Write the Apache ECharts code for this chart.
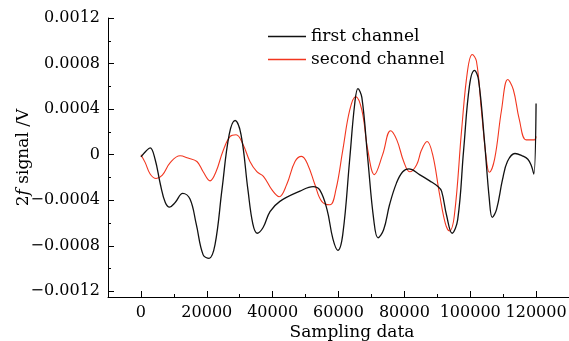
<!DOCTYPE html>
<html>
<head>
<meta charset="utf-8">
<script src="https://cdn.jsdelivr.net/npm/echarts@6/dist/echarts.min.js"></script>
<style>
  html, body { margin: 0; padding: 0; background: #fff; }
  #chart { width: 569px; height: 341px; }
</style>
</head>
<body>
<div id="chart"></div>
<script>
// first channel (black)
var firstX = [0, 1500, 2800, 4300, 5900, 7400, 8700, 10400, 12700, 14900, 16800, 18900, 20700, 22500, 24600, 26800, 28600, 30400, 32500, 34000, 35300, 37100, 39200, 42200, 48300, 52300, 54300, 56500, 58300, 59800, 61300, 63400, 64900, 65900, 67100, 68900, 70700, 72000, 73700, 75500, 77600, 79500, 81400, 84600, 87700, 90200, 91300, 92800, 94500, 96200, 98000, 99800, 101300, 102500, 104300, 105800, 106700, 108000, 109800, 111300, 113600, 115800, 117500, 118600, 119300, 120000];
var firstY = [-0.00002, 0.00003, 0.00006, -0.00004, -0.00026, -0.00042, -0.00046, -0.00042, -0.00034, -0.00039, -0.00061, -0.00088, -0.00091, -0.00079, -0.00031, 0.000175, 0.0003, 0.000175, -0.00031, -0.00061, -0.00069, -0.00064, -0.0005, -0.00041, -0.00032, -0.00028, -0.00031, -0.00048, -0.00074, -0.00084, -0.0007, -0.00004, 0.00044, 0.00058, 0.0005, -0.00004, -0.00057, -0.00073, -0.00066, -0.00044, -0.00025, -0.00015, -0.000125, -0.000175, -0.00023, -0.00028, -0.00032, -0.00053, -0.00069, -0.00057, 0.00004, 0.00061, 0.00074, 0.00066, 0.00013, -0.00039, -0.00055, -0.00048, -0.00022, -0.00006, 0.00001, -0.00001, -0.00004, -0.0001, -0.00017, 0.00045];

// second channel (red)
var secondX = [0, 1300, 2800, 4600, 6500, 8900, 11900, 14300, 17000, 18900, 21000, 22800, 24900, 27100, 28900, 31000, 33100, 35200, 37200, 39800, 42000, 44300, 46800, 48800, 50700, 52800, 54900, 57400, 59200, 61300, 63400, 65200, 67100, 68900, 70900, 73400, 75800, 77700, 79800, 81600, 83700, 85200, 86900, 88600, 90700, 92500, 93700, 95200, 97400, 99200, 100600, 101900, 103400, 104900, 105800, 107400, 109500, 111400, 113100, 114900, 117000, 119500, 120000];
var secondY = [0, -0.00007, -0.00017, -0.00021, -0.00018, -0.00007, -0.00001, -0.00003, -0.00006, -0.00015, -0.00023, -0.00015, 0.00003, 0.00016, 0.000175, 0.00009, -0.00006, -0.00015, -0.00019, -0.00031, -0.00037, -0.00026, -0.00006, -0.000015, -0.00009, -0.00026, -0.00041, -0.00044, -0.00031, 0.00004, 0.00039, 0.00051, 0.00039, 0.00004, -0.000175, 0, 0.00021, 0.00013, -0.00006, -0.00015, -0.00009, 0.00004, 0.000115, 0, -0.00035, -0.00061, -0.00067, -0.00053, 0.00022, 0.00074, 0.00088, 0.00082, 0.00039, -0.00004, -0.000155, -0.00004, 0.00039, 0.00066, 0.00057, 0.00031, 0.00013, 0.00013, 0.00016];

var xMajorTicks = [0, 20000, 40000, 60000, 80000, 100000, 120000];
var xMinorTicks = [-10000, 10000, 30000, 50000, 70000, 90000, 110000, 130000];
var yMajorTicks = [-0.0012, -0.0008, -0.0004, 0, 0.0004, 0.0008, 0.0012];
var yMinorTicks = [-0.001, -0.0006, -0.0002, 0.0002, 0.0006, 0.001];

function zip(xs, ys) {
  return xs.map(function (x, i) { return [x, ys[i]]; });
}

var font = 'DejaVu Serif';
var axisColor = '#000';

function xFmt(v) { return String(Math.round(v)); }
function yFmt(v) {
  if (Math.abs(v) < 1e-12) return '0';
  return (v < 0 ? '\u2212' : '') + Math.abs(v).toFixed(4);
}

var chart = echarts.init(document.getElementById('chart'));
chart.setOption({
  animation: false,
  backgroundColor: '#fff',
  grid: { left: 108, right: 0, top: 18, bottom: 44, outerBoundsMode: 'none' },
  legend: {
    orient: 'vertical',
    left: 263,
    top: 23,
    icon: 'rect',
    itemWidth: 38,
    itemHeight: 1.3,
    itemGap: 6,
    data: ['first channel', 'second channel'],
    textStyle: { fontFamily: font, fontSize: 17, color: '#000', lineHeight: 16 }
  },
  xAxis: [{
    type: 'value',
    min: -10000,
    max: 130000,
    name: 'Sampling data',
    nameLocation: 'middle',
    nameGap: 27,
    nameMoveOverlap: false,
    nameTextStyle: { fontFamily: font, fontSize: 17, color: '#000', padding: [0, 0, 0, 27] },
    axisLine: { show: true, onZero: false, lineStyle: { color: axisColor, width: 1 } },
    axisTick: { show: true, inside: true, length: 6, customValues: xMajorTicks, lineStyle: { color: axisColor } },
    axisLabel: { customValues: xMajorTicks, margin: 8, fontFamily: font, fontSize: 16, color: '#000', formatter: xFmt, hideOverlap: false },
    splitLine: { show: false }
  }, {
    type: 'value',
    position: 'bottom',
    min: -10000,
    max: 130000,
    axisLine: { show: false, onZero: false },
    axisTick: { show: true, inside: true, length: 3, customValues: xMinorTicks, lineStyle: { color: axisColor } },
    axisLabel: { show: false },
    splitLine: { show: false }
  }],
  yAxis: [{
    type: 'value',
    min: -0.00125,
    max: 0.0012,
    name: '2{i|f} signal /V',
    nameLocation: 'middle',
    nameGap: 76,
    nameMoveOverlap: false,
    nameTextStyle: {
      fontFamily: font, fontSize: 17, color: '#000',
      rich: { i: { fontFamily: font, fontSize: 17, fontStyle: 'italic', color: '#000' } }
    },
    axisLine: { show: true, onZero: false, lineStyle: { color: axisColor, width: 1 } },
    axisTick: { show: true, inside: true, length: 6, customValues: yMajorTicks, lineStyle: { color: axisColor } },
    axisLabel: { customValues: yMajorTicks, margin: 8, fontFamily: font, fontSize: 16, color: '#000', formatter: yFmt },
    splitLine: { show: false }
  }, {
    type: 'value',
    position: 'left',
    min: -0.00125,
    max: 0.0012,
    axisLine: { show: false, onZero: false },
    axisTick: { show: true, inside: true, length: 3, customValues: yMinorTicks, lineStyle: { color: axisColor } },
    axisLabel: { show: false },
    splitLine: { show: false }
  }],
  series: [{
    name: 'second channel',
    type: 'line',
    data: zip(secondX, secondY),
    smooth: 0.4,
    symbol: 'none',
    lineStyle: { color: '#f2361f', width: 1.1 },
    itemStyle: { color: '#f2361f' }
  }, {
    name: 'first channel',
    type: 'line',
    data: zip(firstX, firstY),
    smooth: 0.4,
    symbol: 'none',
    lineStyle: { color: '#111', width: 1.3 },
    itemStyle: { color: '#111' }
  }]
});
</script>
</body>
</html>
